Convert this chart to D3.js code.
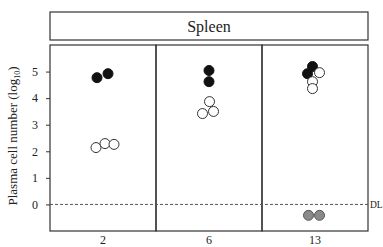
<!DOCTYPE html>
<html>
<head>
<meta charset="UTF-8">
<script src="https://d3js.org/d3.v7.min.js"></script>
<style>
  body { margin: 0; background: #fff; }
  svg text { font-family: "Liberation Serif", "Times New Roman", serif; fill: #222; }
</style>
</head>
<body>
<svg width="383" height="247"></svg>
<script>
// days post infection (panels)
const days = ["2", "6", "13"];
// plasma cell numbers (log10) per day
const filledVals = [[4.77, 4.92], [5.04, 4.62], [4.92, 5.19]];
const openVals = [[2.14, 2.29, 2.26], [3.87, 3.42, 3.5], [4.96, 4.62, 4.36]];
const grayVals = [[], [], [-0.41, -0.41]];
// horizontal jitter inside each panel (arbitrary units)
const filledJit = [[-6, 5], [0, 0], [-7.5, -2.5]];
const openJit = [[-7, 2, 11], [0.5, -6.5, 4.5], [4.5, -2.5, -2.5]];
const grayJit = [[], [], [-6.5, 4.5]];
const yTicks = [0, 1, 2, 3, 4, 5];

const svg = d3.select("svg");
const mLeft = 50, mRight = 368, mTop = 45, mBottom = 231;

const x = d3.scaleBand().domain(days).range([mLeft, mRight]);
const y = d3.scaleLinear().domain([-1, 6]).range([mBottom, mTop]);
const jit = d3.scaleLinear().domain([-10, 10]).range([-10, 10]);

// title box
svg.append("rect").attr("x", mLeft).attr("y", 12).attr("width", mRight - mLeft).attr("height", 28)
  .attr("fill", "none").attr("stroke", "#333").attr("stroke-width", 1.2);
svg.append("text").attr("x", (mLeft + mRight) / 2).attr("y", 32).attr("text-anchor", "middle")
  .attr("font-size", 16).text("Spleen");

// panels
days.forEach(d => {
  svg.append("rect").attr("x", x(d)).attr("y", mTop).attr("width", x.bandwidth()).attr("height", mBottom - mTop)
    .attr("fill", "none").attr("stroke", "#333").attr("stroke-width", 1.2);
});

// detection limit
svg.append("line").attr("x1", mLeft).attr("x2", mRight).attr("y1", y(0)).attr("y2", y(0))
  .attr("stroke", "#555").attr("stroke-dasharray", "3,2");
svg.append("text").attr("x", 370).attr("y", y(0) + 4).attr("font-size", 9.5).text("DL");

// y axis
const ya = svg.append("g").attr("transform", `translate(${mLeft},0)`)
  .call(d3.axisLeft(y).tickValues(yTicks).tickFormat(d3.format("d")).tickSize(4).tickPadding(8));
ya.attr("font-family", null);
ya.select(".domain").remove();
ya.selectAll("line").attr("stroke", "#333");
ya.selectAll("text").attr("font-size", 12);

// x labels
svg.append("g").selectAll("text").data(days).join("text")
  .attr("x", d => x(d) + x.bandwidth() / 2).attr("y", 244).attr("text-anchor", "middle")
  .attr("font-size", 12).text(d => d);

// y title
const yt = svg.append("text").attr("transform", `translate(17,${(mTop + mBottom) / 2 - 2}) rotate(-90)`)
  .attr("text-anchor", "middle").attr("font-size", 13);
yt.append("tspan").text("Plasma cell number (log");
yt.append("tspan").attr("font-size", 8).attr("dy", 3).text("10");
yt.append("tspan").attr("dy", -3).text(")");

function drawGroup(vals, jits, fill, stroke) {
  days.forEach((d, i) => {
    const cx = x(d) + x.bandwidth() / 2;
    svg.append("g").selectAll("circle").data(vals[i]).join("circle")
      .attr("cx", (v, j) => cx + jit(jits[i][j]))
      .attr("cy", v => y(v))
      .attr("r", 5)
      .attr("fill", fill).attr("stroke", stroke).attr("stroke-width", 1);
  });
}
drawGroup(filledVals, filledJit, "#111", "#111");
drawGroup(openVals, openJit, "#fff", "#333");
drawGroup(grayVals, grayJit, "#8a8a8a", "#555");
</script>
</body>
</html>
